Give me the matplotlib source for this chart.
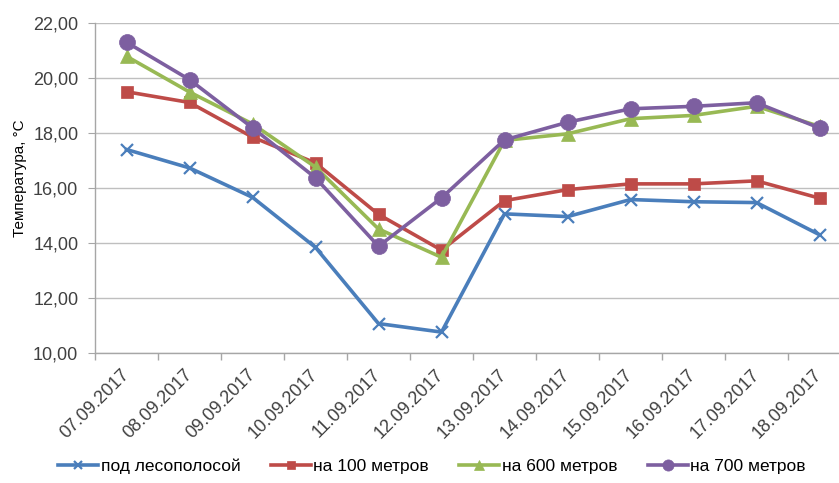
import matplotlib
matplotlib.use("Agg")
import matplotlib.pyplot as plt
from matplotlib.ticker import FuncFormatter, MultipleLocator

dates = ["07.09.2017", "08.09.2017", "09.09.2017", "10.09.2017", "11.09.2017", "12.09.2017",
         "13.09.2017", "14.09.2017", "15.09.2017", "16.09.2017", "17.09.2017", "18.09.2017"]
pod_lesopolosoy = [17.40, 16.73, 15.66, 13.84, 11.07, 10.76, 15.06, 14.96, 15.58, 15.50, 15.47, 14.30]
na_100 = [19.50, 19.11, 17.85, 16.91, 15.04, 13.74, 15.54, 15.94, 16.15, 16.15, 16.26, 15.63]
na_600 = [20.79, 19.49, 18.33, 16.76, 14.51, 13.48, 17.73, 17.97, 18.52, 18.64, 18.97, 18.24]
na_700 = [21.30, 19.94, 18.19, 16.37, 13.88, 15.64, 17.75, 18.39, 18.88, 18.97, 19.10, 18.18]
series_names = ["под лесополосой", "на 100 метров", "на 600 метров", "на 700 метров"]

plt.rcParams['font.family'] = ['Liberation Sans', 'DejaVu Sans']
text_col = "#404040"

fig = plt.figure(figsize=(8.39, 4.83), dpi=100)
ax = fig.add_axes([95/839, 1-353/483, 756/839, 330/483])

x = list(range(len(dates)))
styles = [
    (pod_lesopolosoy, "#4A7EBB", "x", 9, 1.6),
    (na_100, "#BE4B48", "s", 8.5, 0.5),
    (na_600, "#98B954", "^", 9.5, 0.5),
    (na_700, "#7D5FA0", "o", 11.5, 0.5),
]
for (vals, col, mk, ms, mew), name in zip(styles, series_names):
    ax.plot(x, vals, color=col, lw=2.6, marker=mk, markersize=ms,
            markeredgewidth=mew, markeredgecolor=col,
            markerfacecolor=col, label=name, solid_joinstyle='round')

ax.set_xlim(-0.5, len(dates) - 0.5)
ax.set_ylim(10, 22)
ax.yaxis.set_major_locator(MultipleLocator(2))
ax.yaxis.set_major_formatter(FuncFormatter(lambda v, p: f"{v:.2f}".replace(".", ",")))
ax.grid(axis='y', color="#BFBFBF", lw=1.0)
ax.set_axisbelow(True)

ax.set_xticks(x)
ax.set_xticklabels(dates, rotation=45, ha='right', va='center', rotation_mode='anchor',
                   fontsize=13, color=text_col)
ax.tick_params(axis='x', length=0, pad=14)
ax.set_xticks([i - 0.5 for i in range(len(dates) + 1)], minor=True)
ax.tick_params(axis='x', which='minor', length=5, color="#A6A6A6", width=1)
ax.tick_params(axis='y', length=5, color="#A6A6A6", labelsize=13, labelcolor=text_col, pad=7)

for s in ['top', 'right']:
    ax.spines[s].set_visible(False)
for s in ['left', 'bottom']:
    ax.spines[s].set_color("#A6A6A6")
    ax.spines[s].set_linewidth(1)

ax.set_ylabel("Температура, °С", fontsize=11, color="#000000")
ax.yaxis.set_label_coords(-(95 - 27) / 756, (353 - 178) / 330)

leg = fig.legend(loc='center left', bbox_to_anchor=(58/839, 1-466/483), ncol=4, frameon=False,
                 fontsize=12.5, handlelength=2.3, columnspacing=1.75, handletextpad=0.15,
                 markerscale=0.7, borderpad=0, borderaxespad=0)

fig.savefig("out.png", dpi=100)
